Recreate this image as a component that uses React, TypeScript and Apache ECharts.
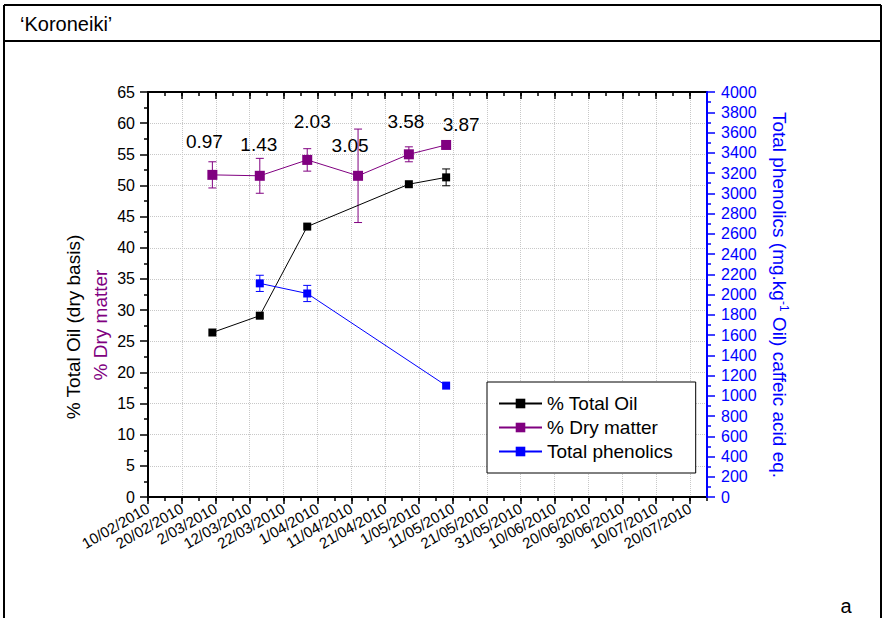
import React, { useEffect, useRef } from "react";
import * as echarts from "echarts";

// ---- data ----
const axisStart = "10/02/2010";
const axisEnd = "25/07/2010";
const sampleDates = ["1/03/2010", "15/03/2010", "29/03/2010", "13/04/2010", "28/04/2010", "9/05/2010"];
const totalOil = [26.4, 29.1, 43.4, null, 50.2, 51.3];
const totalOilErr = [null, null, null, null, null, 1.35];
const dryMatter = [51.7, 51.55, 54.1, 51.55, 55.0, 56.5];
const dryMatterErr = [2.1, 2.8, 1.8, 7.5, 1.2, null];
const phenolics = [null, 2110, 2010, null, null, 1100];
const phenolicsErr = [null, 80, 80, null, null, null];
const maturityIndex = ["0.97", "1.43", "2.03", "3.05", "3.58", "3.87"];
const leftTicks = { min: 0, max: 65, interval: 5 };
const rightTicks = { min: 0, max: 4000, interval: 200 };

// annotation label offsets (px) relative to the dry matter points
const maturityLabelOffsets = [
  [-8, -33],
  [-1, -31],
  [5, -38],
  [-8, -30],
  [-3, -33],
  [15, -20],
];

const BASE = (() => {
  const [d, m, y] = axisStart.split("/").map(Number);
  return Date.UTC(y, m - 1, d);
})();
const DAY = 86400000;
function toDay(s: string) {
  const [d, m, y] = s.split("/").map(Number);
  return (Date.UTC(y, m - 1, d) - BASE) / DAY;
}
function fmt(v: number) {
  const dt = new Date(BASE + Math.round(v) * DAY);
  return `${dt.getUTCDate()}/${String(dt.getUTCMonth() + 1).padStart(2, "0")}/${dt.getUTCFullYear()}`;
}

const xs = sampleDates.map(toDay);
const xMax = toDay(axisEnd);

const FONT = "Liberation Sans, Arial, sans-serif";
const BLACK = "#000000";
const PURPLE = "#800080";
const BLUE = "#0000ff";

function pairs(vals: (number | null)[]) {
  const out: number[][] = [];
  vals.forEach((v, i) => {
    if (v != null) out.push([xs[i], v]);
  });
  return out;
}

function errorSeries(name: string, vals: (number | null)[], errs: (number | null)[], color: string, yAxisIndex: number) {
  const data: number[][] = [];
  vals.forEach((v, i) => {
    const e = errs[i];
    if (v != null && e != null) data.push([xs[i], v - e, v + e]);
  });
  return {
    type: "custom",
    name,
    xAxisIndex: 0,
    yAxisIndex,
    data,
    silent: true,
    z: 3,
    encode: { x: 0, y: [1, 2] },
    renderItem: (_params: any, api: any) => {
      const x = api.value(0);
      const lo = api.coord([x, api.value(1)]);
      const hi = api.coord([x, api.value(2)]);
      const w = 4;
      const style = { stroke: color, lineWidth: 1, fill: null };
      return {
        type: "group",
        children: [
          { type: "line", shape: { x1: lo[0], y1: lo[1], x2: hi[0], y2: hi[1] }, style },
          { type: "line", shape: { x1: lo[0] - w, y1: lo[1], x2: lo[0] + w, y2: lo[1] }, style },
          { type: "line", shape: { x1: hi[0] - w, y1: hi[1], x2: hi[0] + w, y2: hi[1] }, style },
        ],
      };
    },
  };
}

export default function App() {
  const ref = useRef<HTMLDivElement>(null);

  useEffect(() => {
    if (!ref.current) return;
    const chart = echarts.init(ref.current, undefined, { renderer: "svg" });

    const grid = { left: 148, right: 176, top: 92, bottom: 121 };

    const baseX = {
      type: "value",
      min: 0,
      max: xMax,
      gridIndex: 0,
    };

    const option: any = {
      animation: false,
      backgroundColor: "#ffffff",
      textStyle: { fontFamily: FONT },
      grid,
      xAxis: [
        {
          ...baseX,
          position: "bottom",
          interval: 10,
          axisLine: { show: true, onZero: false, lineStyle: { color: BLACK, width: 2 } },
          axisTick: { show: true, inside: false, length: 7, lineStyle: { color: BLACK, width: 1.5 } },
          minorTick: { show: false },
          splitLine: { show: true, lineStyle: { color: "#c8c8c8", type: "dotted", width: 1 } },
          axisLabel: {
            show: true,
            rotate: 30,
            fontSize: 15,
            color: BLACK,
            fontFamily: FONT,
            margin: 10,
            showMaxLabel: false,
            formatter: (v: number) => fmt(v),
          },
        },
        {
          ...baseX,
          position: "bottom",
          interval: 5,
          axisLine: { show: false, onZero: false },
          axisTick: { show: true, inside: false, length: 4, lineStyle: { color: BLACK, width: 1.5 } },
          splitLine: { show: false },
          axisLabel: { show: false },
        },
        {
          ...baseX,
          position: "top",
          interval: 10,
          axisLine: { show: true, onZero: false, lineStyle: { color: BLACK, width: 2 } },
          axisTick: { show: true, inside: true, length: 7, lineStyle: { color: BLACK, width: 1.5 } },
          splitLine: { show: false },
          axisLabel: { show: false },
        },
        {
          ...baseX,
          position: "top",
          interval: 5,
          axisLine: { show: false, onZero: false },
          axisTick: { show: true, inside: true, length: 4, lineStyle: { color: BLACK, width: 1.5 } },
          splitLine: { show: false },
          axisLabel: { show: false },
        },
      ],
      yAxis: [
        {
          type: "value",
          position: "left",
          min: leftTicks.min,
          max: leftTicks.max,
          interval: leftTicks.interval,
          axisLine: { show: true, onZero: false, lineStyle: { color: BLACK, width: 2 } },
          axisTick: { show: true, inside: false, length: 8, lineStyle: { color: BLACK, width: 1.5 } },
          minorTick: { show: true, splitNumber: 2, length: 4, lineStyle: { color: BLACK, width: 1.5 } },
          splitLine: { show: true, lineStyle: { color: "#c8c8c8", type: "dotted", width: 1 } },
          axisLabel: { fontSize: 16, color: BLACK, fontFamily: FONT, margin: 13, formatter: (v: number) => String(v) },
        },
        {
          type: "value",
          position: "right",
          min: rightTicks.min,
          max: rightTicks.max,
          interval: rightTicks.interval,
          axisLine: { show: true, onZero: false, lineStyle: { color: BLUE, width: 2 } },
          axisTick: { show: true, inside: false, length: 8, lineStyle: { color: BLUE, width: 1.5 } },
          minorTick: { show: true, splitNumber: 2, length: 4, lineStyle: { color: BLUE, width: 1.5 } },
          splitLine: { show: false },
          axisLabel: { fontSize: 16, color: BLUE, fontFamily: FONT, margin: 14, formatter: (v: number) => String(v) },
          z: 5,
        },
      ],
      legend: {
        orient: "vertical",
        left: 487,
        top: 382,
        backgroundColor: "#ffffff",
        borderColor: BLACK,
        borderWidth: 1,
        borderRadius: 0,
        padding: [12, 23, 12, 11],
        itemGap: 5,
        itemWidth: 43,
        itemHeight: 12,
        textStyle: { fontSize: 19, color: BLACK, fontFamily: FONT },
        data: ["% Total Oil", "% Dry matter", "Total phenolics"],
        selectedMode: false,
      },
      series: [
        errorSeries("oilErr", totalOil, totalOilErr, BLACK, 0),
        errorSeries("dryErr", dryMatter, dryMatterErr, PURPLE, 0),
        errorSeries("phenErr", phenolics, phenolicsErr, BLUE, 1),
        {
          name: "% Total Oil",
          type: "line",
          xAxisIndex: 0,
          yAxisIndex: 0,
          data: pairs(totalOil),
          symbol: "rect",
          symbolSize: 8,
          itemStyle: { color: BLACK },
          lineStyle: { color: BLACK, width: 1 },
          z: 4,
        },
        {
          name: "% Dry matter",
          type: "line",
          xAxisIndex: 0,
          yAxisIndex: 0,
          data: dryMatter.map((v, i) => ({
            value: [xs[i], v],
            label: {
              show: true,
              position: "inside",
              offset: maturityLabelOffsets[i],
              formatter: maturityIndex[i],
              fontSize: 19,
              color: BLACK,
              fontFamily: FONT,
            },
          })),
          symbol: "rect",
          symbolSize: 10,
          itemStyle: { color: PURPLE },
          lineStyle: { color: PURPLE, width: 1 },
          z: 4,
        },
        {
          name: "Total phenolics",
          type: "line",
          xAxisIndex: 0,
          yAxisIndex: 1,
          data: pairs(phenolics),
          symbol: "rect",
          symbolSize: 8,
          itemStyle: { color: BLUE },
          lineStyle: { color: BLUE, width: 1 },
          z: 4,
        },
      ],
      graphic: [
        { type: "line", shape: { x1: 4, y1: 5, x2: 881, y2: 5 }, style: { stroke: BLACK, lineWidth: 2 } },
        { type: "line", shape: { x1: 4, y1: 41, x2: 881, y2: 41 }, style: { stroke: BLACK, lineWidth: 2 } },
        { type: "line", shape: { x1: 4, y1: 5, x2: 4, y2: 618 }, style: { stroke: BLACK, lineWidth: 2 } },
        { type: "line", shape: { x1: 881, y1: 5, x2: 881, y2: 618 }, style: { stroke: BLACK, lineWidth: 2 } },
        {
          type: "text",
          x: 20,
          y: 24,
          style: { text: "\u2018Koroneiki\u2019", fontSize: 20, fill: BLACK, fontFamily: FONT, align: "left", verticalAlign: "middle" },
        },
        {
          type: "text",
          x: 846,
          y: 606,
          style: { text: "a", fontSize: 20, fill: BLACK, fontFamily: FONT, align: "center", verticalAlign: "middle" },
        },
        {
          type: "text",
          x: 73,
          y: 327,
          rotation: Math.PI / 2,
          style: { text: "% Total Oil (dry basis)", fontSize: 19, fill: BLACK, fontFamily: FONT, align: "center", verticalAlign: "middle" },
        },
        {
          type: "text",
          x: 100,
          y: 325,
          rotation: Math.PI / 2,
          style: { text: "% Dry matter", fontSize: 19, fill: PURPLE, fontFamily: FONT, align: "center", verticalAlign: "middle" },
        },
        {
          type: "text",
          x: 779,
          y: 295,
          rotation: -Math.PI / 2,
          style: {
            text: "{a|Total phenolics (mg.kg}{s|-1}{a| Oil) caffeic acid eq.}",
            fontFamily: FONT,
            align: "center",
            verticalAlign: "middle",
            rich: {
              a: { fontSize: 19, fill: BLUE, fontFamily: FONT },
              s: { fontSize: 12, fill: BLUE, fontFamily: FONT, padding: [0, 0, 9, 0] },
            },
          },
        },
      ],
    };

    chart.setOption(option);
    return () => chart.dispose();
  }, []);

  return (
    <div
      ref={ref}
      style={{ position: "fixed", left: 0, top: 0, width: 883, height: 618, background: "#fff" }}
    />
  );
}
